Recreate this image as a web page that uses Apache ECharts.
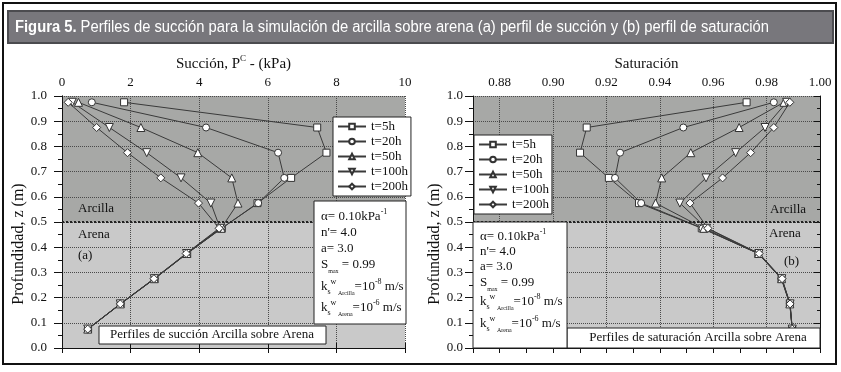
<!DOCTYPE html>
<html>
<head>
<meta charset="utf-8">
<script src="https://cdn.jsdelivr.net/npm/echarts@6/dist/echarts.min.js"></script>
<style>
html, body { margin: 0; padding: 0; background: #fff; }
#chart { width: 841px; height: 372px; }
</style>
</head>
<body>
<div id="chart"></div>
<script>
// profundidad de cada punto (m)
const depth = [0.975, 0.875, 0.775, 0.675, 0.575, 0.475, 0.375, 0.275, 0.175, 0.075];
const seriesNames = ['t=5h', 't=20h', 't=50h', 't=100h', 't=200h'];

// succión (kPa)
const suction5h   = [1.81, 7.44, 7.71, 6.68, 5.70, 4.66, 3.65, 2.70, 1.71, 0.76];
const suction20h  = [0.87, 4.20, 6.30, 6.48, 5.72, 4.65, 3.64, 2.70, 1.71, 0.75];
const suction50h  = [0.48, 2.30, 3.96, 4.95, 5.13, 4.64, 3.64, 2.69, 1.70, 0.75];
const suction100h = [0.30, 1.38, 2.47, 3.47, 4.34, 4.61, 3.63, 2.69, 1.70, 0.75];
const suction200h = [0.18, 1.01, 1.91, 2.88, 3.98, 4.58, 3.62, 2.68, 1.70, 0.75];

// saturación
const sat5h   = [0.9725, 0.9126, 0.9101, 0.9209, 0.9322, 0.9557, 0.9769, 0.9856, 0.9887, 0.9896];
const sat20h  = [0.9827, 0.9488, 0.9251, 0.9232, 0.9330, 0.9560, 0.9768, 0.9855, 0.9887, 0.9896];
const sat50h  = [0.9865, 0.9697, 0.9516, 0.9407, 0.9384, 0.9565, 0.9770, 0.9856, 0.9887, 0.9896];
const sat100h = [0.9875, 0.9794, 0.9684, 0.9573, 0.9475, 0.9575, 0.9771, 0.9857, 0.9888, 0.9896];
const sat200h = [0.9887, 0.9827, 0.9740, 0.9635, 0.9513, 0.9580, 0.9772, 0.9858, 0.9888, 0.9896];

const serif = '"Liberation Serif", "DejaVu Serif", serif';
const sans = '"Liberation Sans", Arial, sans-serif';
const upperColor = '#a7a8a6';
const lowerColor = '#c9c9c9';
const gridColor = '#4a4a4a';

const titleBold = 'Figura 5.';
const titleRest = ' Perfiles de succión para la simulación de arcilla sobre arena (a) perfil de succión y (b) perfil de saturación';

const markers = ['rect', 'circle', 'triangle', 'triangle', 'diamond'];
const markerSizes = [7, 7, 8, 8, 8];

function makeSeries(groups, xi, yi) {
  return groups.map((vals, k) => ({
    name: seriesNames[k],
    type: 'line',
    xAxisIndex: xi,
    yAxisIndex: yi,
    data: depth.map((d, i) => [vals[i], d]),
    symbol: markers[k],
    symbolSize: markerSizes[k],
    symbolRotate: k === 3 ? 180 : 0,
    showAllSymbol: true,
    lineStyle: { color: '#3a3a3a', width: 1 },
    itemStyle: { color: '#fff', borderColor: '#333', borderWidth: 1 },
    emphasis: { disabled: true },
    z: 3
  }));
}

function bandSeries(xi, yi) {
  return {
    type: 'line', xAxisIndex: xi, yAxisIndex: yi, data: [], silent: true, z: 0,
    markArea: {
      silent: true,
      data: [
        [{ yAxis: 0.5, itemStyle: { color: upperColor } }, { yAxis: 1 }],
        [{ yAxis: 0, itemStyle: { color: lowerColor } }, { yAxis: 0.5 }]
      ]
    },
    markLine: {
      silent: true, symbol: 'none', label: { show: false },
      lineStyle: { color: '#222', type: 'dotted', width: 2 },
      data: [{ yAxis: 0.5 }]
    }
  };
}

const labelFont = { fontFamily: serif, fontSize: 13, color: '#111' };

function topAxis(grid, min, max, interval, name, formatter, splitColors) {
  return {
    type: 'value', gridIndex: grid, position: 'top', min: min, max: max, interval: interval,
    name: name, nameLocation: 'middle', nameGap: 22,
    nameTextStyle: { fontFamily: serif, fontSize: 15, color: '#111',
      rich: { sup: { fontFamily: serif, fontSize: 9, verticalAlign: 'top', lineHeight: 18, color: '#111' } } },
    axisLine: { lineStyle: { color: '#111', width: 1 } },
    axisTick: { inside: true, length: 5, lineStyle: { color: '#111' } },
    axisLabel: Object.assign({ margin: 7, formatter: formatter }, labelFont),
    splitLine: { show: true, lineStyle: { color: splitColors, type: 'dotted', width: 1 } },
    z: 2
  };
}

function bottomAxis(grid, min, max, interval) {
  return {
    type: 'value', gridIndex: grid, position: 'bottom', min: min, max: max, interval: interval,
    axisLine: { lineStyle: { color: '#111', width: 1 } },
    axisTick: { inside: true, length: 5, lineStyle: { color: '#111' } },
    axisLabel: { show: false },
    splitLine: { show: false },
    z: 2
  };
}

function leftAxis(grid, name, nameGap, margin) {
  return {
    type: 'value', gridIndex: grid, position: 'left', min: 0, max: 1, interval: 0.1,
    name: name, nameLocation: 'middle', nameGap: nameGap,
    nameTextStyle: { fontFamily: serif, fontSize: 16, color: '#111', padding: [0, 44, 0, 0] },
    axisLine: { lineStyle: { color: '#111', width: 1 } },
    axisTick: { inside: false, length: 8, lineStyle: { color: '#111' } },
    minorTick: { show: true, splitNumber: 2, length: 4, lineStyle: { color: '#111' } },
    axisLabel: Object.assign({ margin: margin, formatter: v => v.toFixed(1) }, labelFont),
    splitLine: { show: true, lineStyle: { color: gridColor, type: 'dotted', width: 1 } },
    z: 2
  };
}

function rightAxis(grid) {
  return {
    type: 'value', gridIndex: grid, position: 'right', min: 0, max: 1, interval: 0.1,
    axisLine: { lineStyle: { color: '#111', width: 1 } },
    axisTick: { inside: true, length: 6, lineStyle: { color: '#111' } },
    minorTick: { show: true, splitNumber: 2, length: 3, lineStyle: { color: '#111' } },
    axisLabel: { show: false },
    splitLine: { show: false },
    z: 2
  };
}

const paramRich = {
  sup: { fontFamily: serif, fontSize: 8, verticalAlign: 'top', fill: '#111' },
  sub: { fontFamily: serif, fontSize: 8, verticalAlign: 'bottom', fill: '#111' },
  subs: { fontFamily: serif, fontSize: 6, verticalAlign: 'bottom', fill: '#111' }
};
const paramLines = [
  'α= 0.10kPa{sup|-1}',
  "n'= 4.0",
  'a= 3.0',
  'S{subs|max} = 0.99',
  'k{sub|s}{sup|w}{subs| Arcilla}=10{sup|-8} m/s',
  'k{sub|s}{sup|w}{subs| Arena}=10{sup|-6} m/s'
];

function textEl(x, y, text, opts) {
  return {
    type: 'text', x: x, y: y, z: 101, silent: true,
    style: Object.assign({ text: text, fontFamily: serif, fontSize: 13, fill: '#111',
      verticalAlign: 'middle', align: 'left', lineHeight: 18, rich: paramRich }, opts || {})
  };
}

function paramBox(x, y, w, h, ys) {
  const els = [{ type: 'rect', z: 100, silent: true, shape: { x: x, y: y, width: w, height: h },
    style: { fill: '#fff', stroke: '#222', lineWidth: 1 } }];
  paramLines.forEach((t, i) => els.push(textEl(x + 7, ys[i], t)));
  return els;
}

// condensar el título para que ocupe el mismo ancho que en la figura
const ctx = document.createElement('canvas').getContext('2d');
ctx.font = 'bold 16px ' + sans;
let titleW = ctx.measureText(titleBold).width;
ctx.font = '16px ' + sans;
titleW += ctx.measureText(titleRest).width;
const titleScale = 754 / titleW;

const graphics = [
  { type: 'rect', z: 100, silent: true, shape: { x: 3, y: 3, width: 833, height: 361 },
    style: { fill: 'none', stroke: '#111', lineWidth: 2 } },
  { type: 'rect', z: 100, silent: true, shape: { x: 8, y: 11, width: 825, height: 32 },
    style: { fill: '#78777c', stroke: '#4b4b4f', lineWidth: 2 } },
  { type: 'text', z: 101, silent: true, x: 15, y: 28, scaleX: titleScale,
    style: { text: '{b|' + titleBold + '}' + titleRest,
      fontFamily: sans, fontSize: 16, fill: '#fff', verticalAlign: 'middle',
      rich: { b: { fontFamily: sans, fontSize: 16, fontWeight: 'bold', fill: '#fff' } } } },
  textEl(78, 209, 'Arcilla'),
  textEl(78, 235, 'Arena'),
  textEl(78, 256, '(a)'),
  textEl(770, 210, 'Arcilla'),
  textEl(769, 234, 'Arena'),
  textEl(784, 262, '(b)'),
  { type: 'rect', z: 100, silent: true, shape: { x: 99, y: 326, width: 227, height: 18 },
    style: { fill: '#fff', stroke: '#222', lineWidth: 1 } },
  textEl(212, 335, 'Perfiles de succión Arcilla sobre Arena', { align: 'center' }),
  { type: 'rect', z: 100, silent: true, shape: { x: 567, y: 328, width: 253, height: 20 },
    style: { fill: '#fff', stroke: '#222', lineWidth: 1 } },
  textEl(698, 338, 'Perfiles de saturación Arcilla sobre Arena', { align: 'center' })
].concat(paramBox(314, 201, 92, 123, [217, 233, 249, 265, 287, 308]))
 .concat(paramBox(473, 222, 94, 126, [237, 252, 267, 283, 302, 324]));

const legendBase = {
  orient: 'vertical', data: seriesNames, itemWidth: 28, itemHeight: 7, itemGap: 2,
  padding: [3, 3, 3, 4], backgroundColor: '#fff', borderColor: '#222', borderWidth: 1,
  textStyle: { fontFamily: serif, fontSize: 13, color: '#111' }, selectedMode: false
};

const chart = echarts.init(document.getElementById('chart'));
chart.setOption({
  animation: false,
  backgroundColor: '#fff',
  grid: [
    { left: 62, top: 96, width: 343, height: 252 },
    { left: 473, top: 96, width: 347, height: 252 }
  ],
  xAxis: [
    topAxis(0, 0, 10, 2, 'Succión, P{sup|C} - (kPa)', v => String(v), gridColor),
    bottomAxis(0, 0, 10, 2),
    topAxis(1, 0.87, 1.0, 0.01, 'Saturación',
      v => (Math.round(v * 100) % 2 === 0 ? v.toFixed(2) : ''), ['rgba(0,0,0,0)', gridColor]),
    bottomAxis(1, 0.87, 1.0, 0.01)
  ],
  yAxis: [
    leftAxis(0, 'Profundidad, z (m)', 28, 15),
    rightAxis(0),
    leftAxis(1, 'Profundidad, z (m)', 19, 10),
    rightAxis(1)
  ],
  legend: [
    Object.assign({ left: 333, top: 117 }, legendBase),
    Object.assign({ left: 474, top: 135 }, legendBase)
  ],
  series: [bandSeries(0, 0), bandSeries(2, 2)]
    .concat(makeSeries([suction5h, suction20h, suction50h, suction100h, suction200h], 0, 0))
    .concat(makeSeries([sat5h, sat20h, sat50h, sat100h, sat200h], 2, 2)),
  graphic: graphics
});
</script>
</body>
</html>
